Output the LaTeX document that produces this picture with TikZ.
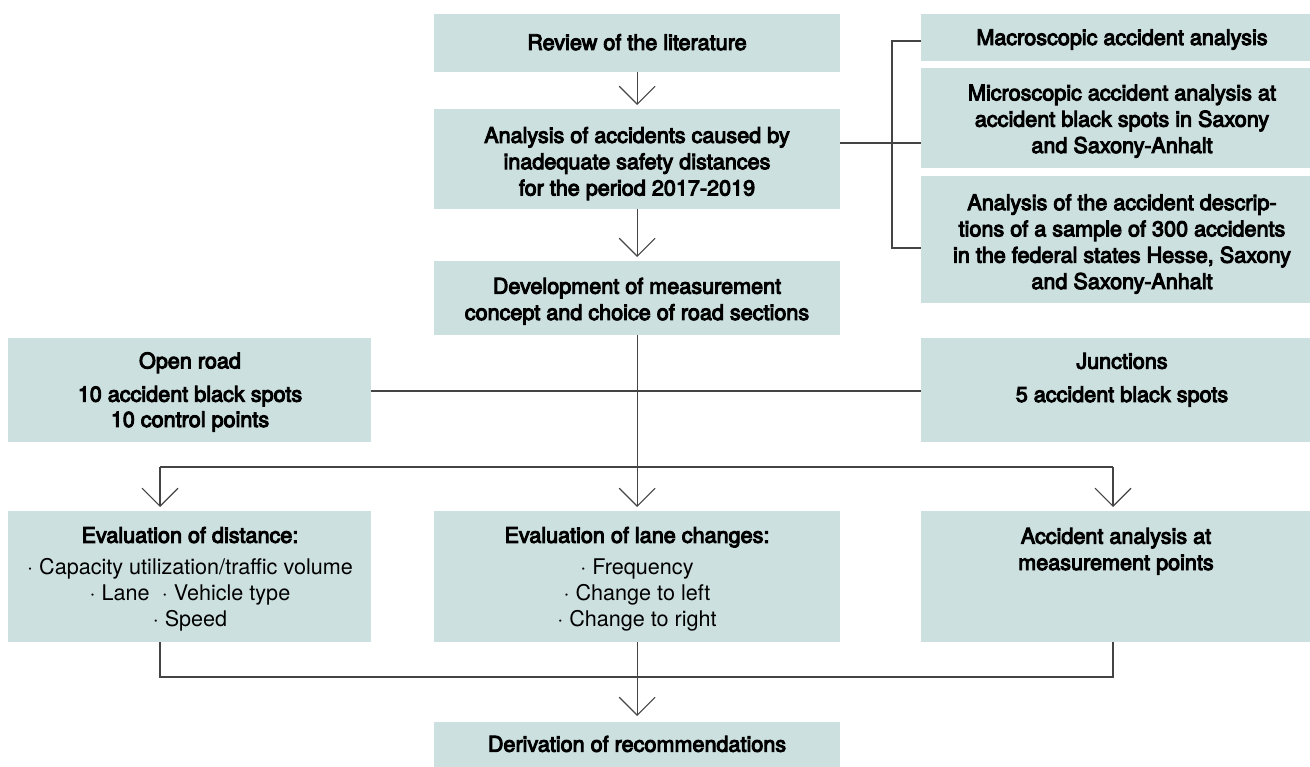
\documentclass[tikz,border=0pt]{standalone}
\usepackage{fontspec}
\setmainfont{TeX Gyre Heros}
\newfontfamily\medfont{TeX Gyre Heros}[FakeBold=4.5]
\usetikzlibrary{arrows.meta}
\definecolor{boxfill}{HTML}{CCE0DF}
\definecolor{linecol}{HTML}{444444}
\begin{document}
\begin{tikzpicture}[x=1pt,y=-1pt,
  box/.style={fill=boxfill, draw=none, inner sep=0pt, anchor=north west},
  txt/.style={align=center, inner sep=0pt, anchor=base, font=\medfont\fontsize{21.6pt}{26.3pt}\selectfont},
  regtxt/.style={align=center, inner sep=0pt, anchor=base, font=\fontsize{21.6pt}{26.3pt}\selectfont},
  conn/.style={draw=linecol, line width=1.1pt},
  arr/.style={conn, -{Straight Barb[length=18pt,width=36pt]}, shorten >=4pt}]
\useasboundingbox (0,0) rectangle (1310,767);
% boxes
\node[box, minimum width=406pt, minimum height=58pt] (review) at (434,14) {};
\node[box, minimum width=406pt, minimum height=100pt] (analysis) at (434,109) {};
\node[box, minimum width=406pt, minimum height=74pt] (dev) at (434,261) {};
\node[box, minimum width=402pt, minimum height=47pt] (macro) at (921,14) {};
\node[box, minimum width=402pt, minimum height=100pt] (micro) at (921,68) {};
\node[box, minimum width=402pt, minimum height=127pt] (desc) at (921,176) {};
\node[box, minimum width=363pt, minimum height=104pt] (openroad) at (8,338) {};
\node[box, minimum width=402pt, minimum height=104pt] (junctions) at (921,338) {};
\node[box, minimum width=363pt, minimum height=131pt] (evaldist) at (8,511) {};
\node[box, minimum width=406pt, minimum height=131pt] (evallane) at (434,511) {};
\node[box, minimum width=402pt, minimum height=131pt] (acc) at (921,511) {};
\node[box, minimum width=406pt, minimum height=50pt] (deriv) at (434,722) {};
% texts (anchor base = baseline of the last line)
\node[txt] (reviewt) at (637,50) {Review of the literature};
\node[txt] (analysist) at (637,195.5) {Analysis of accidents caused by\\inadequate safety distances\\for the period 2017-2019};
\node[txt] (devt) at (637,320) {Development of measurement\\concept and choice of road sections};
\node[txt] (macrot) at (1122,45) {Macroscopic accident analysis};
\node[txt] (microt) at (1122,153) {Microscopic accident analysis at\\accident black spots in Saxony\\and Saxony-Anhalt};
\node[txt] (desct) at (1122,289) {Analysis of the accident descrip-\\tions of a sample of 300 accidents\\in the federal states Hesse, Saxony\\and Saxony-Anhalt};
\node[txt] (openroadt) at (190,427) {Open road\\[7pt]10 accident black spots\\[-1pt]10 control points};
\node[txt] (junctionst) at (1122,402) {Junctions\\[7pt]5 accident black spots};
\node[regtxt] (evaldistt) at (190,626.7) {{\medfont Evaluation of distance:}\\[5pt]· Capacity utilization/traffic volume\\· Lane~~· Vehicle type\\· Speed};
\node[regtxt] (evallanet) at (637,626.7) {{\medfont Evaluation of lane changes:}\\[5pt]· Frequency\\· Change to left\\· Change to right};
\node[txt] (acct) at (1116,570) {Accident analysis at\\measurement points};
\node[txt] (derivt) at (637,751.7) {Derivation of recommendations};
% connectors
\draw[arr] (review.south) -- (analysis.north);
\draw[arr] (analysis.south) -- (dev.north);
\coordinate (bt) at (892,41);
\coordinate (bm) at (892,143);
\coordinate (bb) at (892,248);
\draw[conn] (analysis.east |- bm) -- (micro.west |- bm);
\draw[conn] (macro.west |- bt) -- (bt) -- (bb) -- (desc.west |- bb);
\coordinate (hl) at (637,391);
\draw[conn] (openroad.east |- hl) -- (junctions.west |- hl);
\coordinate (sl) at (160,467);
\coordinate (sr) at (1113,467);
\draw[conn] (sl) -- (sr);
\draw[arr] (dev.south) -- (evallane.north);
\draw[arr] (sl) -- (sl |- evaldist.north);
\draw[arr] (sr) -- (sr |- acc.north);
\coordinate (ml) at (160,677);
\coordinate (mr) at (1113,677);
\draw[conn] (evaldist.south -| ml) -- (ml) -- (mr) -- (acc.south -| mr);
\draw[arr, shorten >=6pt] (evallane.south) -- (deriv.north);
\end{tikzpicture}
\end{document}
